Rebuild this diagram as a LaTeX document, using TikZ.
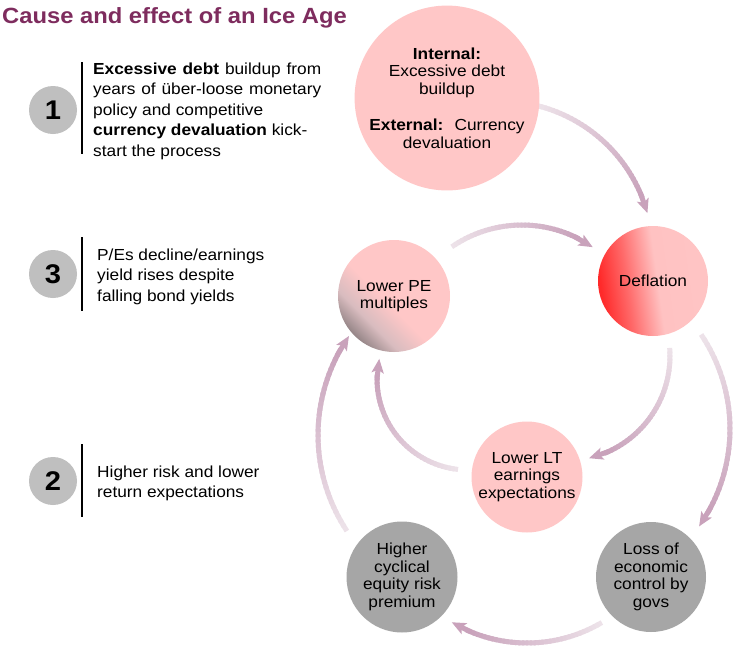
\documentclass[tikz,border=0pt]{standalone}
\usepackage{fontspec}
\setmainfont{Liberation Sans}[FakeStretch=1.08]
\usetikzlibrary{arrows.meta}
\definecolor{titlec}{HTML}{7E2C5E}
\definecolor{pkfill}{HTML}{FFC7C7}
\definecolor{grfill}{HTML}{A6A6A6}
\definecolor{numfill}{HTML}{BFBFBF}
\definecolor{arrhead}{HTML}{C9A2BB}
\definecolor{arrtail}{HTML}{EDE2E9}
\definecolor{defred}{HTML}{FF2A2A}
\definecolor{defmid}{HTML}{FF6A6A}
\definecolor{deflight}{HTML}{FFC2C2}
\definecolor{pegrey}{HTML}{968688}
\definecolor{pemid}{HTML}{D9BCBF}
\pgfdeclareverticalshading{peshade}{100bp}{color(0bp)=(pegrey); color(25bp)=(pegrey); color(34bp)=(pemid); color(46bp)=(pkfill); color(100bp)=(pkfill)}
\pgfdeclarehorizontalshading{defshade}{100bp}{color(0bp)=(defred); color(26bp)=(defred); color(38bp)=(defmid); color(52bp)=(deflight); color(100bp)=(pkfill)}
\newcommand\circfont{\fontsize{16}{17.5}\selectfont}
\newcommand\leftfont{\fontsize{16}{20.5}\selectfont}
\newcommand\gradarrow[5]{%
  \pgfmathsetmacro\gaa{#4}%
  \pgfmathsetmacro\gbb{#5-18/(#3)*57.2958}%
  \foreach \k in {0,...,35}{%
    \pgfmathsetmacro\gta{\gaa+(\gbb-\gaa)*\k/36}%
    \pgfmathsetmacro\gtb{\gaa+(\gbb-\gaa)*(\k+1.5)/36}%
    \pgfmathtruncatemacro\gpc{100*\k/35}%
    \draw[arcseg, arrhead!\gpc!arrtail] ({#1+#3*cos(\gta)},{#2+#3*sin(\gta)}) -- ({#1+#3*cos(\gtb)},{#2+#3*sin(\gtb)});
  }%
  \pgfmathsetmacro\gtc{#5-20/(#3)*57.2958}%
  \draw[arcseg, arrhead, -{Stealth[length=14pt,width=12pt,inset=3pt]}] ({#1+#3*cos(\gtc)},{#2+#3*sin(\gtc)}) -- ({#1+#3*cos(#5)},{#2+#3*sin(#5)});
}
\begin{document}
\begin{tikzpicture}[x=1pt,y=-1pt,
  bubble/.style={circle, inner sep=0pt, align=center, font=\circfont, text=black},
  numc/.style={circle, fill=numfill, minimum size=48pt, inner sep=0pt, font=\fontsize{27}{27}\selectfont\bfseries},
  ltext/.style={anchor=base west, align=left, inner sep=0pt, font=\leftfont, text=black},
  vbar/.style={line width=1.1pt, black},
  arcseg/.style={line width=5pt}]
\useasboundingbox (0,0) rectangle (750,648);
\fill[white] (0,0) rectangle (750,648);

\node[anchor=base west, inner sep=0pt, font=\fontsize{22}{22}\selectfont\bfseries, text=titlec] (title) at (2,23) {Cause and effect of an Ice Age};

% left column
\node[numc] (n1) at (53,110) {1};
\node[numc] (n3) at (53,274) {3};
\node[numc] (n2) at (53,481) {2};
\draw[vbar] (82,62) -- (82,154);
\draw[vbar] (82,237) -- (82,311);
\draw[vbar] (82,444) -- (82,517);
\node[ltext] (t1) at (93,156) {\makebox[228pt][s]{\textbf{Excessive debt} buildup from}\\\makebox[228pt][s]{years of über-loose monetary}\\policy and competitive\\\textbf{currency devaluation} kick-\\start the process};
\node[ltext] (t3) at (97,301) {P/Es decline/earnings\\yield rises despite\\falling bond yields};
\node[ltext] (t2) at (97,497.5) {Higher risk and lower\\return expectations};

% arrows
\gradarrow{500}{254}{153}{-76}{-15.5}
\gradarrow{522}{349}{124}{-124.5}{-55.2}
\gradarrow{561}{429}{169}{-34}{35.2}
\gradarrow{565}{356}{105}{-4.4}{76.8}
\gradarrow{527}{496}{147}{59.4}{120.8}
\gradarrow{492}{435}{174}{146.5}{214.7}
\gradarrow{468}{379}{91}{96.3}{192.8}

% circles
\node[bubble, fill=pkfill, minimum size=172pt] (cause) at (447,98) {\textbf{Internal:}\\Excessive debt\\buildup\\[19pt]\textbf{External:}~ Currency\\devaluation};
\node[bubble, shade, shading=defshade, shading angle=8, minimum size=110pt] (defl) at (653,281) {Deflation};
\node[bubble, shade, shading=peshade, shading angle=-45, minimum size=112pt] (lpe) at (394,296) {Lower PE\\multiples};
\node[bubble, fill=pkfill, minimum size=111pt] (llt) at (527,477) {Lower LT\\earnings\\expectations};
\node[bubble, fill=grfill, minimum size=111pt] (hce) at (402,577) {Higher\\cyclical\\equity risk\\premium};
\node[bubble, fill=grfill, minimum size=110pt] (loss) at (651,577) {Loss of\\economic\\control by\\govs};
\end{tikzpicture}
\end{document}
